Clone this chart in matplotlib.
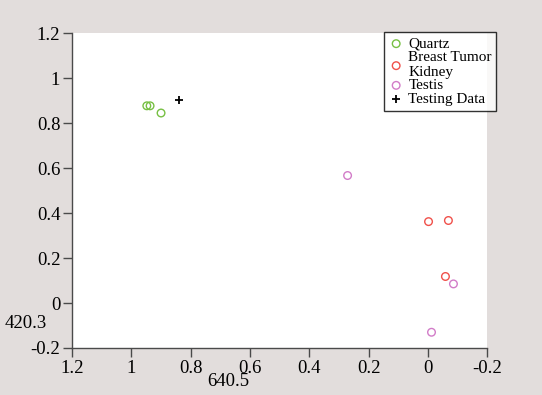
import matplotlib.pyplot as plt

# values
quartz_x = [0.948, 0.937, 0.90]
quartz_y = [0.877, 0.877, 0.845]
tumor_x = [-0.002, -0.069, -0.059]
tumor_y = [0.362, 0.367, 0.118]
testis_x = [0.271, -0.086, -0.012]
testis_y = [0.567, 0.085, -0.13]
test_x = [0.84]
test_y = [0.905]

xticks = [1.2, 1, 0.8, 0.6, 0.4, 0.2, 0, -0.2]
yticks = [-0.2, 0, 0.2, 0.4, 0.6, 0.8, 1, 1.2]

plt.rcParams['font.family'] = ['Liberation Serif', 'DejaVu Serif']

fig = plt.figure(figsize=(5.42, 3.95), dpi=100, facecolor='#e2dddc')
ax = fig.add_axes([0.133, 0.119, 0.766, 0.797])
ax.set_facecolor('white')

ax.scatter(quartz_x, quartz_y, s=30, facecolors='none', edgecolors='#77c043', linewidths=1.0, label='Quartz')
ax.scatter(tumor_x, tumor_y, s=30, facecolors='none', edgecolors='#f0504a', linewidths=1.0, label='Breast Tumor\nKidney')
ax.scatter(testis_x, testis_y, s=30, facecolors='none', edgecolors='#d27cc8', linewidths=1.0, label='Testis')
ax.scatter(test_x, test_y, s=32, marker='+', color='black', linewidths=1.3, label='Testing Data')

ax.set_xlim(1.2, -0.2)
ax.set_ylim(-0.2, 1.2)
ax.set_xticks(xticks)
ax.set_xticklabels(['1.2', '1', '0.8', '0.6', '0.4', '0.2', '0', '-0.2'])
ax.set_yticks(yticks)
ax.set_yticklabels(['-0.2', '0', '0.2', '0.4', '0.6', '0.8', '1', '1.2'])
ax.tick_params(axis='both', direction='out', length=6.5, width=1.0, color='#4a4a4a', labelsize=13.5)
ax.tick_params(axis='x', pad=2)
ax.tick_params(axis='y', pad=2)
ax.spines['top'].set_visible(False)
ax.spines['right'].set_visible(False)
for side in ['left', 'bottom']:
    ax.spines[side].set_color('#4a4a4a')
    ax.spines[side].set_linewidth(1.0)

fig.text(0.047, 0.18, '420.3', fontsize=13.5, ha='center', va='center')
fig.text(0.421, 0.033, '640.5', fontsize=13.5, ha='center', va='center')

leg = ax.legend(loc='upper right', bbox_to_anchor=(0.916, 0.918), bbox_transform=fig.transFigure,
                fontsize=11, frameon=True, fancybox=False, edgecolor='black',
                handletextpad=0.3, handlelength=1.0, borderpad=0.3, labelspacing=0.0,
                borderaxespad=0)
leg.get_frame().set_linewidth(1.0)

fig.savefig('out.png', dpi=100, facecolor=fig.get_facecolor())
